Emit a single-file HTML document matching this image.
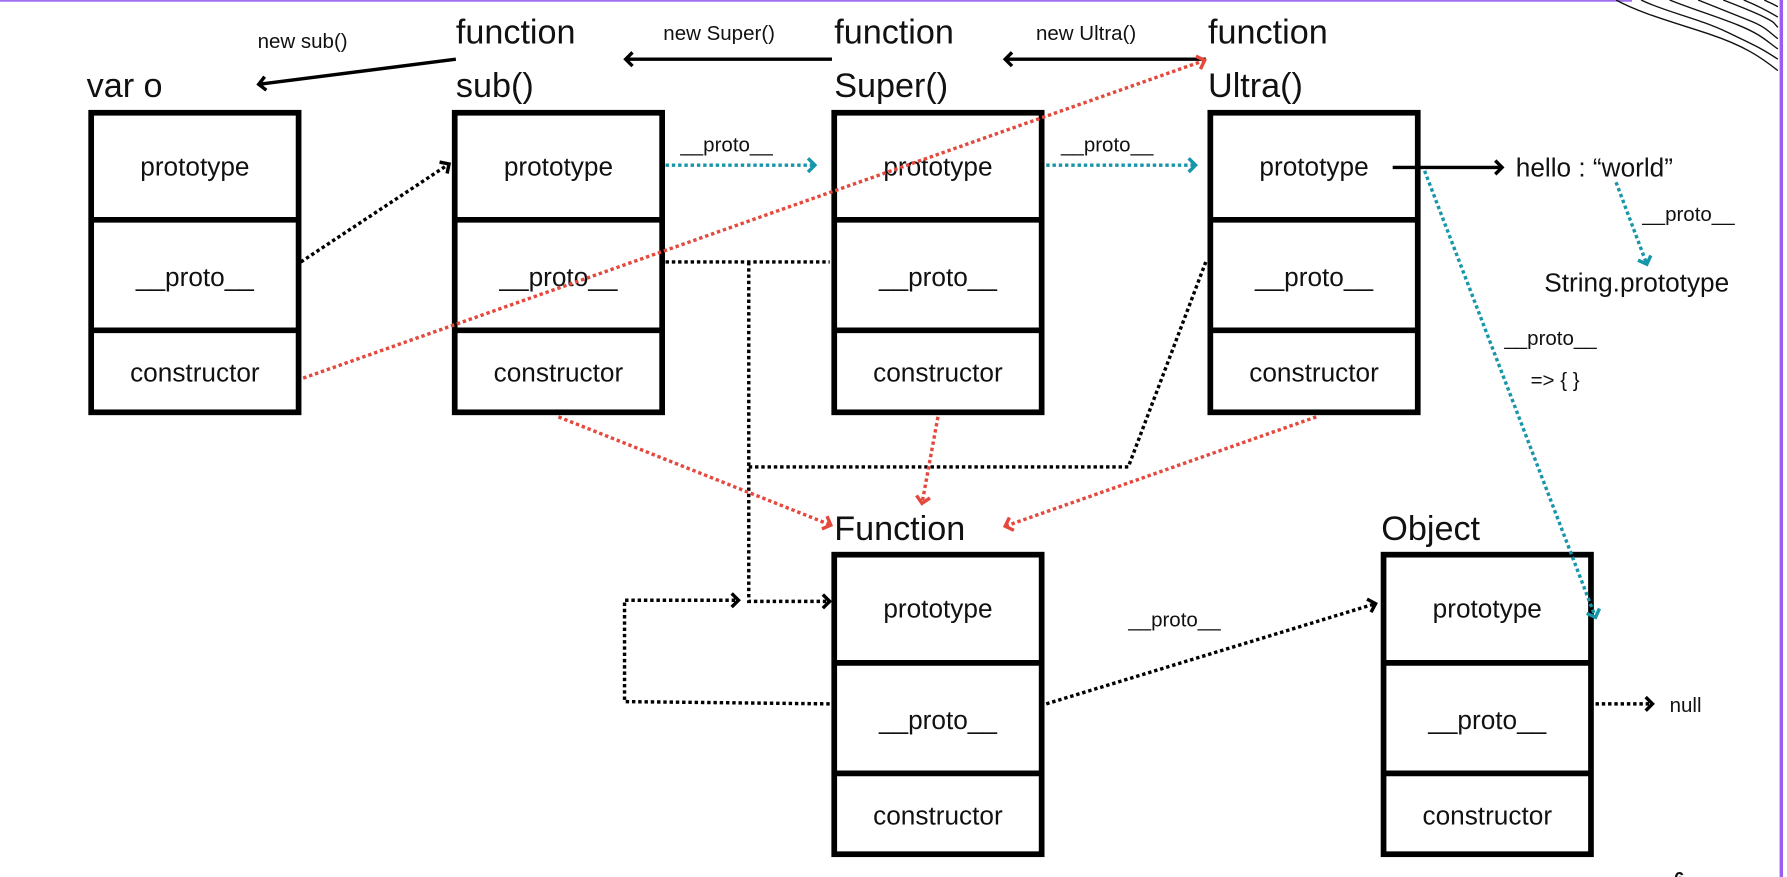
<!DOCTYPE html>
<html><head><meta charset="utf-8"><style>
html,body{margin:0;padding:0;background:#fff;}
svg{display:block;}
text{font-family:"Liberation Sans",sans-serif;fill:#111;}
</style></head><body>
<svg width="1787" height="877" viewBox="0 0 1568 770" preserveAspectRatio="none" xmlns="http://www.w3.org/2000/svg">
<defs>
<marker id="ab" markerWidth="14" markerHeight="16" refX="9" refY="8" orient="auto" markerUnits="userSpaceOnUse"><path d="M3,2 L9,8 L3,14" fill="none" stroke="#000" stroke-width="3"/></marker>
<marker id="ar" markerWidth="14" markerHeight="16" refX="9" refY="8" orient="auto" markerUnits="userSpaceOnUse"><path d="M3,2 L9,8 L3,14" fill="none" stroke="#e5483d" stroke-width="3"/></marker>
<marker id="at" markerWidth="14" markerHeight="16" refX="9" refY="8" orient="auto" markerUnits="userSpaceOnUse"><path d="M3,2 L9,8 L3,14" fill="none" stroke="#1796aa" stroke-width="3"/></marker>
</defs>
<rect x="0" y="0" width="1568" height="770" fill="#fff"/>
<line x1="0" y1="0.5" x2="1432" y2="0.5" stroke="#a070f0" stroke-width="2"/>
<line x1="1563" y1="0" x2="1563" y2="770" stroke="#9a5cf5" stroke-width="3"/>
<g fill="none" stroke="#111" stroke-width="1.2">
<path d="M1418,0 C1440,12 1470,20 1500,30 S1545,50 1560,62"/>
<path d="M1440,0 C1460,10 1490,16 1515,28 S1545,42 1560,52"/>
<path d="M1465,0 C1485,8 1505,14 1525,22 S1550,36 1560,43"/>
<path d="M1490,0 C1505,6 1520,12 1535,18 S1552,28 1560,34"/>
<path d="M1512,0 C1525,5 1538,10 1548,15 S1556,20 1560,24"/>
<path d="M1530,0 C1540,4 1550,9 1560,15"/>
<path d="M1548,0 C1552,2 1557,4 1560,6"/>
</g>
<g fill="none" stroke="#000" stroke-width="5">
<rect x="80" y="99" width="182" height="263"/><line x1="80" y1="193" x2="262" y2="193"/><line x1="80" y1="290" x2="262" y2="290"/>
<rect x="399" y="99" width="182" height="263"/><line x1="399" y1="193" x2="581" y2="193"/><line x1="399" y1="290" x2="581" y2="290"/>
<rect x="732" y="99" width="182" height="263"/><line x1="732" y1="193" x2="914" y2="193"/><line x1="732" y1="290" x2="914" y2="290"/>
<rect x="1062" y="99" width="182" height="263"/><line x1="1062" y1="193" x2="1244" y2="193"/><line x1="1062" y1="290" x2="1244" y2="290"/>
<rect x="732" y="487" width="182" height="263"/><line x1="732" y1="582" x2="914" y2="582"/><line x1="732" y1="679" x2="914" y2="679"/>
<rect x="1214" y="487" width="182" height="263"/><line x1="1214" y1="582" x2="1396" y2="582"/><line x1="1214" y1="679" x2="1396" y2="679"/>
</g>
<g font-size="23" text-anchor="middle">
<text x="171" y="154">prototype</text><text x="171" y="251">__proto__</text><text x="171" y="335">constructor</text>
<text x="490" y="154">prototype</text><text x="490" y="251">__proto__</text><text x="490" y="335">constructor</text>
<text x="823" y="154">prototype</text><text x="823" y="251">__proto__</text><text x="823" y="335">constructor</text>
<text x="1153" y="154">prototype</text><text x="1153" y="251">__proto__</text><text x="1153" y="335">constructor</text>
<text x="823" y="542">prototype</text><text x="823" y="640">__proto__</text><text x="823" y="724">constructor</text>
<text x="1305" y="542">prototype</text><text x="1305" y="640">__proto__</text><text x="1305" y="724">constructor</text>
</g>
<g font-size="30">
<text x="76" y="85">var o</text>
<text x="400" y="38">function</text><text x="400" y="85">sub()</text>
<text x="732" y="38">function</text><text x="732" y="85">Super()</text>
<text x="1060" y="38">function</text><text x="1060" y="85">Ultra()</text>
<text x="732" y="474">Function</text>
<text x="1212" y="474">Object</text>
</g>
<g font-size="18">
<text x="226" y="42">new sub()</text>
<text x="582" y="35">new Super()</text>
<text x="909" y="35">new Ultra()</text>
<text x="597" y="133">__proto__</text>
<text x="931" y="133">__proto__</text>
<text x="1441" y="194">__proto__</text>
<text x="1320" y="303">__proto__</text>
<text x="1343" y="340">=&gt; { }</text>
<text x="990" y="550">__proto__</text>
<text x="1465" y="625">null</text>
</g>
<text x="1330" y="155" font-size="23">hello : “world”</text>
<text x="1355" y="256" font-size="23">String.prototype</text>
<text x="1469" y="777" font-size="16" font-weight="bold">6</text>
<g stroke="#000" stroke-width="3" fill="none">
<line x1="400" y1="52" x2="227" y2="74" marker-end="url(#ab)"/>
<line x1="730" y1="52" x2="549" y2="52" marker-end="url(#ab)"/>
<line x1="1058" y1="52" x2="882" y2="52" marker-end="url(#ab)"/>
<line x1="1222" y1="147" x2="1318" y2="147" marker-end="url(#ab)"/>
</g>
<g stroke="#000" stroke-width="3" fill="none" stroke-dasharray="3 2.5">
<line x1="264" y1="230" x2="394" y2="144" marker-end="url(#ab)"/>
<line x1="584" y1="230" x2="728" y2="230"/>
<polyline points="657,230 657,528 728,528" marker-end="url(#ab)"/>
<polyline points="657,410 990,410 1058,230"/>
<polyline points="728,618 548,616 548,527 648,527" marker-end="url(#ab)"/>
<line x1="918" y1="618" x2="1207" y2="530" marker-end="url(#ab)"/>
<line x1="1400" y1="618" x2="1450" y2="618" marker-end="url(#ab)"/>
</g>
<g stroke="#1796aa" stroke-width="3" fill="none" stroke-dasharray="3 2.5">
<line x1="584" y1="145" x2="715" y2="145" marker-end="url(#at)"/>
<line x1="918" y1="145" x2="1049" y2="145" marker-end="url(#at)"/>
<line x1="1418" y1="160" x2="1445" y2="232" marker-end="url(#at)"/>
<line x1="1250" y1="150" x2="1400" y2="542" marker-end="url(#at)"/>
</g>
<g stroke="#e5483d" stroke-width="3" fill="none" stroke-dasharray="3 2.5">
<line x1="266" y1="332" x2="1057" y2="53" marker-end="url(#ar)"/>
<line x1="490" y1="366" x2="729" y2="461" marker-end="url(#ar)"/>
<line x1="823" y1="366" x2="809" y2="442" marker-end="url(#ar)"/>
<line x1="1155" y1="366" x2="882" y2="462" marker-end="url(#ar)"/>
</g>
</svg>
</body></html>
